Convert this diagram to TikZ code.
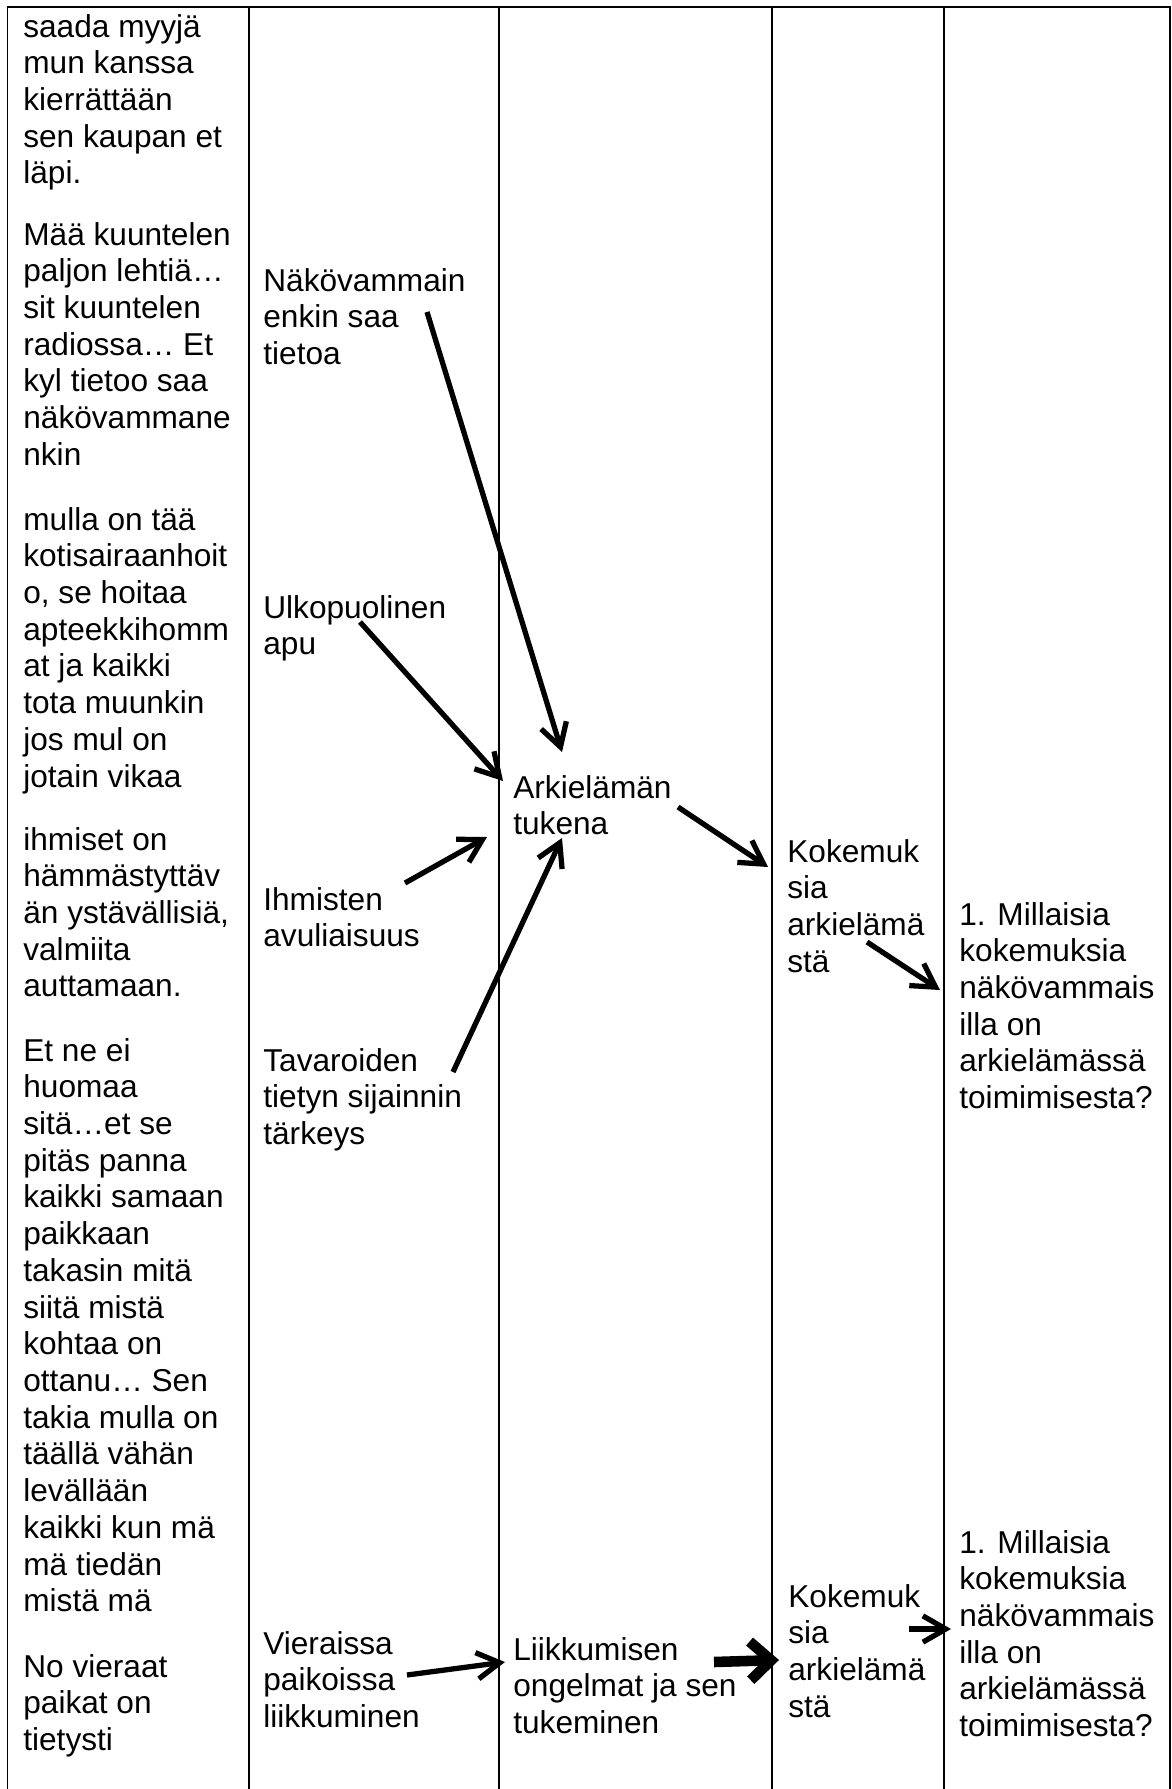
\documentclass[tikz,border=0pt]{standalone}
\usepackage{fontspec}
\setmainfont{Liberation Sans}
\usetikzlibrary{arrows.meta,positioning}
\newcommand{\celltext}[1]{\begin{tabular}[t]{@{}l@{}}#1\end{tabular}}

\begin{document}
\begin{tikzpicture}[x=0.02cm, y=-0.02cm,
    txt/.style={anchor=base west, inner sep=0pt, font=\fontsize{18}{20.9}\selectfont},
    rule/.style={line width=0.04cm},
    arr/.style={line width=3pt, -{Straight Barb[length=13pt,width=15pt]}},
    bigarr/.style={line width=6pt, -{Straight Barb[length=12pt,width=22pt]}}]
    \useasboundingbox (0,0) rectangle (1171,1789);

    % Table rules
    \draw[rule] (7.5,1789) -- (7.5,7) -- (1170,7) -- (1170,1789);
    \draw[rule] (249,7) -- (249,1789);
    \draw[rule] (499,7) -- (499,1789);
    \draw[rule] (772,7) -- (772,1789);
    \draw[rule] (944,7) -- (944,1789);

    % Quotes
    \node[txt] (q1) at (23,37) {\celltext{saada myyjä\\mun kanssa\\kierrättään\\sen kaupan et\\läpi.}};
    \node[txt] (q2) at (23,245) {\celltext{Mää kuuntelen\\paljon lehtiä…\\sit kuuntelen\\radiossa… Et\\kyl tietoo saa\\näkövammane\\nkin}};
    \node[txt] (q3) at (23,530) {\celltext{mulla on tää\\kotisairaanhoit\\o, se hoitaa\\apteekkihomm\\at ja kaikki\\tota muunkin\\jos mul on\\jotain vikaa}};
    \node[txt] (q4) at (23,850) {\celltext{ihmiset on\\hämmästyttäv\\än ystävällisiä,\\valmiita\\auttamaan.}};
    \node[txt] (q5) at (23,1061) {\celltext{Et ne ei\\huomaa\\sitä…et se\\pitäs panna\\kaikki samaan\\paikkaan\\takasin mitä\\siitä mistä\\kohtaa on\\ottanu… Sen\\takia mulla on\\täällä vähän\\levällään\\kaikki kun mä\\mä tiedän\\mistä mä}};
    \node[txt] (q6) at (23,1677) {\celltext{No vieraat\\paikat on\\tietysti}};

    % Reduced expressions
    \node[txt] (nako) at (263,291) {\celltext{Näkövammain\\enkin saa\\tietoa}};
    \node[txt] (ulko) at (263,618) {\celltext{Ulkopuolinen\\apu}};
    \node[txt] (ihmi) at (263,910) {\celltext{Ihmisten\\avuliaisuus}};
    \node[txt] (tava) at (263,1071) {\celltext{Tavaroiden\\tietyn sijainnin\\tärkeys}};
    \node[txt] (vier) at (263,1654) {\celltext{Vieraissa\\paikoissa\\liikkuminen}};

    % Subcategories
    \node[txt] (arki) at (513,798) {\celltext{Arkielämän\\tukena}};
    \node[txt] (liik) at (513,1660) {\celltext{Liikkumisen\\ongelmat ja sen\\tukeminen}};

    % Main categories
    \node[txt] (koke) at (787,862) {\celltext{Kokemuk\\sia\\arkielämä\\stä}};
    \node[txt] (koke2) at (788,1607) {\celltext{Kokemuk\\sia\\arkielämä\\stä}};

    % Research question
    \node[txt] (mill) at (959,925) {\celltext{1. Millaisia\\kokemuksia\\näkövammais\\illa on\\arkielämässä\\toimimisesta?}};
    \node[txt] (mill2) at (959,1553) {\celltext{1. Millaisia\\kokemuksia\\näkövammais\\illa on\\arkielämässä\\toimimisesta?}};

    % Arrows
    \draw[arr] ([shift={(164,21)}]nako.base west) -- ([shift={(49,-46)}]arki.base west);
    \draw[arr] ([shift={(97,4)}]ulko.base west) -- ([shift={(-10,-17)}]arki.base west);
    \draw[arr] ([shift={(142,-27)}]ihmi.base west) -- ([shift={(-26,39)}]arki.base west);
    \draw[arr] ([shift={(190,1)}]tava.base west) -- ([shift={(49,40)}]arki.base west);
    \draw[arr] ([shift={(165,9)}]arki.base west) -- ([shift={(-19,5)}]koke.base west);
    \draw[arr] ([shift={(80,80)}]koke.base west) -- ([shift={(-19,65)}]mill.base west);

    \draw[arr] ([shift={(144,21)}]vier.base west) -- ([shift={(-8,2)}]liik.base west);
    \draw[bigarr] ([shift={(201,2)}]liik.base west) -- ([shift={(-9,53)}]koke2.base west);
    \draw[arr] ([shift={(121,22)}]koke2.base west) -- ([shift={(-8,76)}]mill2.base west);
\end{tikzpicture}
\end{document}
